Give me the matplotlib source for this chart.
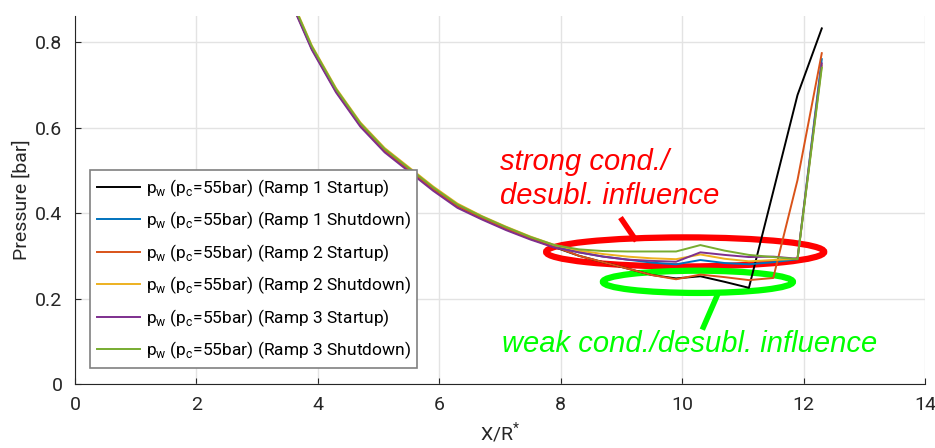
"""Wall pressure along the nozzle for the three ramps, with annotations."""

import matplotlib
matplotlib.use("Agg")
import matplotlib.pyplot as plt
from matplotlib.patches import Ellipse

plt.rcParams.update({
    "font.family": ["Roboto", "DejaVu Sans"],
    "mathtext.fontset": "custom",
    "mathtext.rm": "Roboto",
    "axes.edgecolor": "#262626",
    "xtick.color": "#262626",
    "ytick.color": "#262626",
})

# x positions (X/R*)
x = [3.1, 3.5, 3.9, 4.3, 4.7, 5.1, 5.5, 5.9, 6.3, 6.7, 7.1, 7.5, 7.9,
     8.3, 8.7, 9.1, 9.5, 9.9, 10.3, 10.7, 11.1, 11.5, 11.9, 12.3]

# wall pressure [bar]
ramp1_startup = [1.10, 0.915, 0.785, 0.685, 0.605, 0.545, 0.500, 0.455, 0.415, 0.387, 0.362, 0.340, 0.320,
                 0.300, 0.285, 0.270, 0.255, 0.247, 0.252, 0.239, 0.225, 0.450, 0.676, 0.832]
ramp1_shutdown = [1.10, 0.918, 0.788, 0.688, 0.608, 0.548, 0.503, 0.458, 0.418, 0.390, 0.365, 0.342, 0.322,
                  0.308, 0.298, 0.291, 0.284, 0.280, 0.290, 0.283, 0.280, 0.285, 0.292, 0.760]
ramp2_startup = [1.10, 0.915, 0.786, 0.686, 0.606, 0.546, 0.501, 0.456, 0.416, 0.388, 0.363, 0.341, 0.321,
                 0.300, 0.285, 0.270, 0.255, 0.245, 0.256, 0.250, 0.243, 0.248, 0.477, 0.774]
ramp2_shutdown = [1.10, 0.922, 0.792, 0.692, 0.612, 0.552, 0.507, 0.462, 0.422, 0.393, 0.368, 0.345, 0.325,
                  0.312, 0.304, 0.298, 0.294, 0.292, 0.303, 0.293, 0.287, 0.290, 0.293, 0.745]
ramp3_startup = [1.10, 0.912, 0.782, 0.682, 0.602, 0.542, 0.497, 0.452, 0.412, 0.385, 0.360, 0.338, 0.319,
                 0.308, 0.298, 0.291, 0.288, 0.286, 0.308, 0.302, 0.297, 0.298, 0.293, 0.750]
ramp3_shutdown = [1.10, 0.920, 0.790, 0.690, 0.610, 0.550, 0.505, 0.460, 0.420, 0.392, 0.367, 0.344, 0.325,
                  0.315, 0.311, 0.310, 0.310, 0.310, 0.325, 0.312, 0.302, 0.297, 0.292, 0.740]

series = [
    ("Ramp 1 Startup", ramp1_startup, "#000000"),
    ("Ramp 1 Shutdown", ramp1_shutdown, "#0072BD"),
    ("Ramp 2 Startup", ramp2_startup, "#D95319"),
    ("Ramp 2 Shutdown", ramp2_shutdown, "#EDB120"),
    ("Ramp 3 Startup", ramp3_startup, "#7E2F8E"),
    ("Ramp 3 Shutdown", ramp3_shutdown, "#77AC30"),
]

fig = plt.figure(figsize=(9.35, 4.48), dpi=100)
ax = fig.add_axes([0.0802, 0.1429, 0.9091, 0.8214])

for name, y, color in series:
    label = r"p$_\mathregular{w}$ (p$_\mathregular{c}$=55bar) (" + name + ")"
    ax.plot(x, y, color=color, lw=1.4, label=label)

ax.set_xlim(0, 14)
ax.set_ylim(0, 0.861)
ax.set_xticks(range(0, 15, 2))
ax.set_yticks([0, 0.2, 0.4, 0.6, 0.8])
ax.set_yticklabels(["0", "0.2", "0.4", "0.6", "0.8"])
ax.tick_params(direction="in", length=4, labelsize=14, pad=9)
ax.grid(True, color="#e3e3e3", lw=1)
ax.set_axisbelow(True)
ax.spines["top"].set_visible(False)
ax.spines["right"].set_visible(False)
ax.set_xlabel(r"X/R$^\mathregular{*}$", fontsize=14, color="#262626", labelpad=4)
ax.set_ylabel("Pressure [bar]", fontsize=14, color="#262626", labelpad=3)

leg = ax.legend(loc="lower left", bbox_to_anchor=(0.0176, 0.0435), borderaxespad=0,
                fontsize=12.5, fancybox=False, edgecolor="#808080", framealpha=1,
                handlelength=2.5, handletextpad=0.3, labelspacing=0.62, borderpad=0.4)
leg.get_frame().set_linewidth(1.2)

# annotations
ax.add_patch(Ellipse((10.05, 0.309), 4.58, 0.068, fill=False, ec="#FF0000", lw=4.5))
ax.add_patch(Ellipse((10.26, 0.239), 3.13, 0.052, fill=False, ec="#00FF00", lw=4.5))
ax.plot([9.01, 9.22], [0.384, 0.340], color="#FF0000", lw=4)
ax.plot([10.58, 10.35], [0.208, 0.133], color="#00FF00", lw=4)

ax.text(7.0, 0.48, "strong cond./\ndesubl. influence", color="#FF0000", fontsize=21,
        style="italic", family=["Liberation Sans"], linespacing=1.28, va="center", ha="left")
ax.text(7.03, 0.094, "weak cond./desubl. influence", color="#00FF00", fontsize=21,
        style="italic", family=["Liberation Sans"], va="center", ha="left")

fig.savefig("out.png", dpi=100)
